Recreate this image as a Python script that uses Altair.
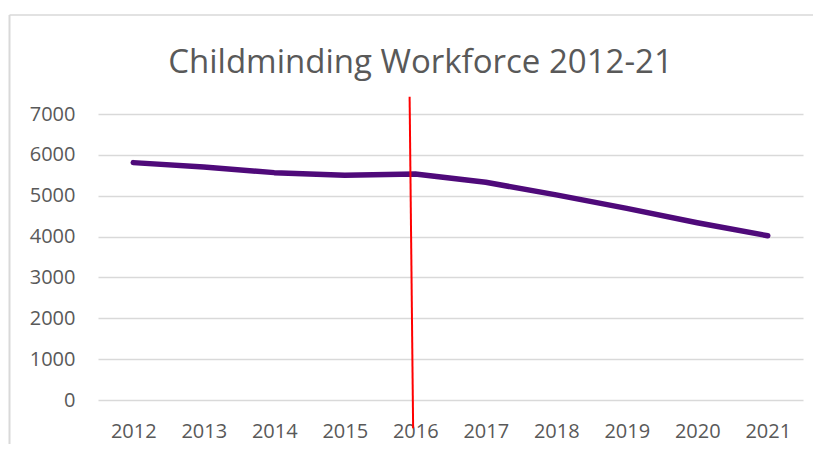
import altair as alt
import pandas as pd

years = [2012, 2013, 2014, 2015, 2016, 2017, 2018, 2019, 2020, 2021]
workforce = [5810, 5700, 5565, 5500, 5530, 5330, 5020, 4690, 4340, 4020]

# hand-drawn red marker line (data coordinates: year, value)
marker_x = [2015.92, 2015.97]
marker_y = [7420, -690]

title_text = "Childminding Workforce 2012-21"
y_ticks = [0, 1000, 2000, 3000, 4000, 5000, 6000, 7000]

df = pd.DataFrame({"year": years, "workforce": workforce})
mk = pd.DataFrame({"x": [marker_x[0]], "x2": [marker_x[1]], "y": [marker_y[0]], "y2": [marker_y[1]]})

FONT = "Open Sans"
GREY = "#595959"

xscale = alt.Scale(domain=[2011.5, 2021.5], nice=False, zero=False)
yscale = alt.Scale(domain=[0, 7000], nice=False)

line = alt.Chart(df).mark_line(color="#4f0a7a", strokeWidth=5.5, strokeCap="round", strokeJoin="round").encode(
    x=alt.X("year:Q", scale=xscale,
            axis=alt.Axis(values=years, format="d", title=None, grid=False, domain=False, ticks=False,
                          labelFont=FONT, labelFontSize=20, labelColor=GREY, labelPadding=21)),
    y=alt.Y("workforce:Q", scale=yscale,
            axis=alt.Axis(values=y_ticks, format="d", title=None, grid=True, gridColor="#d9d9d9", gridWidth=1.5,
                          domain=False, ticks=False, labelFont=FONT, labelFontSize=20, labelColor=GREY,
                          labelPadding=23)),
)

marker = alt.Chart(mk).mark_rule(color="#ff0000", strokeWidth=2, clip=False).encode(
    x="x:Q", x2="x2:Q", y="y:Q", y2="y2:Q"
)

title = alt.Chart(pd.DataFrame({"t": [title_text]})).mark_text(
    font=FONT, fontSize=33, color=GREY, align="center", baseline="alphabetic"
).encode(x=alt.value(322.5), y=alt.value(-41.3), text="t:N")

border_left = alt.Chart(pd.DataFrame({"a": [0]})).mark_rule(color="#d9d9d9", strokeWidth=2).encode(
    x=alt.value(-88.5), y=alt.value(-99), y2=alt.value(340)
)
border_top = alt.Chart(pd.DataFrame({"a": [0]})).mark_rule(color="#d9d9d9", strokeWidth=1.5).encode(
    x=alt.value(-88.5), x2=alt.value(730), y=alt.value(-99)
)

chart = alt.layer(border_left, border_top, line, marker, title).properties(
    width=705, height=286,
    autosize=alt.AutoSizeParams(type="none"),
    padding={"left": 90, "top": 106, "right": 10, "bottom": 44},
    background="white",
).configure_view(stroke=None)

chart.save("out.html", embed_options={"renderer": "svg", "actions": False})
